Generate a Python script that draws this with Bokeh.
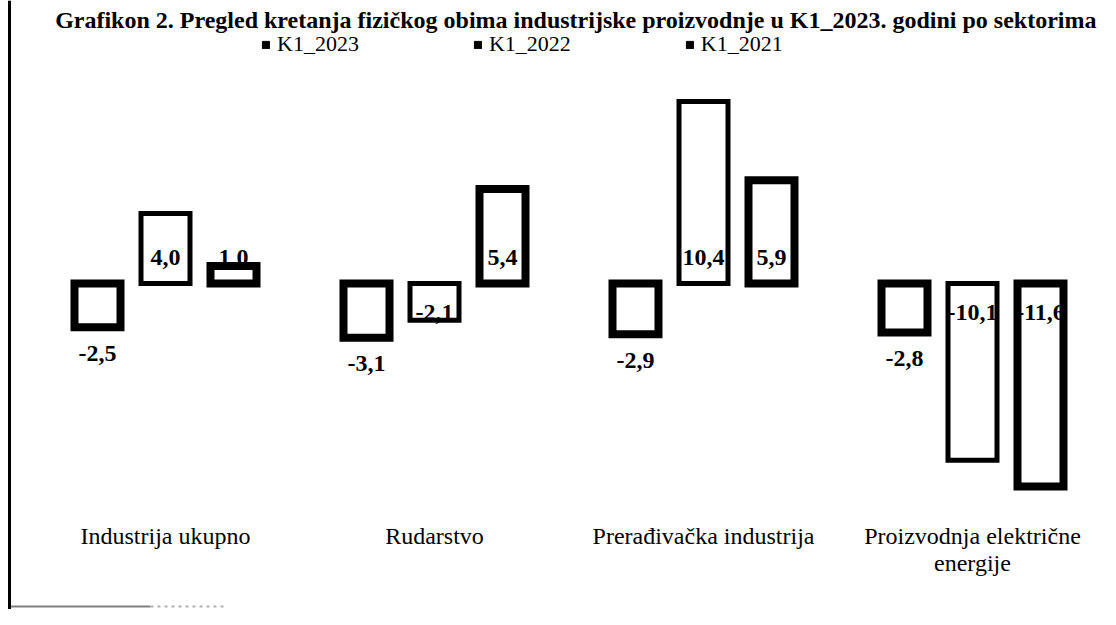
from bokeh.plotting import figure
from bokeh.models import ColumnDataSource, Range1d, Label, Legend, LegendItem, Span
from bokeh.transform import dodge
from bokeh.core.properties import value
from bokeh.embed import file_html
from bokeh.resources import INLINE

# ---------------- data ----------------
title_text = ("Grafikon 2. Pregled kretanja fizičkog obima industrijske proizvodnje "
              "u K1_2023. godini po sektorima")
categories = ["Industrija ukupno", "Rudarstvo", "Prerađivačka industrija",
              "Proizvodnja električne\nenergije"]
series = ["K1_2023", "K1_2022", "K1_2021"]
k1_2023 = [-2.5, -3.1, -2.9, -2.8]
k1_2022 = [4.0, -2.1, 10.4, -10.1]
k1_2021 = [1.0, 5.4, 5.9, -11.6]
values_by_series = [k1_2023, k1_2022, k1_2021]

# ---------------- layout ----------------
W, H = 1100, 609
PX_X = 269.0      # pixels per category group
PX_Y = 17.5       # pixels per percentage point
GROUP0_PX = 165   # canvas x of first group centre
ZERO_PX = 283     # canvas y of zero

x_start = -GROUP0_PX / PX_X
x_end = x_start + W / PX_X
y_end = ZERO_PX / PX_Y
y_start = y_end - H / PX_Y


def cx(px):
    return x_start + px / PX_X


def cy(py):
    return y_end - py / PX_Y


SERIF = value("Liberation Serif")

p = figure(width=W, height=H, x_range=Range1d(x_start, x_end),
           y_range=Range1d(y_start, y_end), output_backend="svg",
           toolbar_location=None, x_axis_location=None, y_axis_location=None,
           min_border=0)
p.grid.visible = False
p.outline_line_color = None
p.background_fill_color = "white"
p.border_fill_color = "white"

offsets = [-68 / PX_X, 0.0, 68 / PX_X]
line_widths = [8, 5, 8]
label_modes = ["below", "inside", "inside"]


def fmt(v):
    return f"{v:.1f}".replace(".", ",")


for name, vals, off, lw, mode in zip(series, values_by_series, offsets,
                                     line_widths, label_modes):
    width = (54 - lw) / PX_X
    if mode == "below":
        ly = vals
        loff = [26 if v < 0 else -26 for v in vals]
    else:
        ly = [0 for v in vals]
        loff = [-26 if v >= 0 else 29 for v in vals]
    src = ColumnDataSource(dict(g=list(range(len(categories))), v=vals,
                                lab=[fmt(v) for v in vals], ly=ly, loff=loff))
    p.vbar(x=dodge("g", off), top="v", bottom=0, width=width, source=src,
           fill_color="white", line_color="black", line_width=lw,
           line_join="miter")
    p.text(x=dodge("g", off), y="ly", text="lab", y_offset="loff", source=src,
           text_font=SERIF, text_font_style="bold", text_font_size="24px",
           text_align="center", text_baseline="middle", text_color="black")

# category labels
cat_src = ColumnDataSource(dict(g=list(range(len(categories))), cat=categories,
                                y=[cy(522)] * len(categories)))
p.text(x="g", y="y", text="cat", source=cat_src, text_font=SERIF,
       text_font_size="24px", text_align="center", text_baseline="top",
       text_line_height=1.05, text_color="black")

# legend (black squares, as in the original)
items = []
for name in series:
    r = p.vbar(x=[x_end + 5], top=[1], width=0.1, fill_color="black",
               line_color="black")
    items.append(LegendItem(label=name, renderers=[r]))
legend = Legend(items=items, orientation="horizontal", location=(261, H - 57),
                spacing=114, glyph_width=9, glyph_height=9, label_standoff=7,
                label_text_font="Liberation Serif", label_text_font_size="22px",
                label_text_color="black",
                padding=0, margin=0, border_line_color=None,
                background_fill_alpha=0)
p.add_layout(legend)

# title
p.add_layout(Label(x=W - 4, y=H - 19, x_units="screen", y_units="screen",
                   text=title_text, text_align="right", text_color="black",
                   text_baseline="alphabetic", text_font="Liberation Serif",
                   text_font_style="bold", text_font_size="24px"))

# frame remnants of the scanned chart box
p.add_layout(Span(location=cx(9), dimension="height", line_color="black",
                  line_width=3))
p.segment(x0=[cx(9)], y0=[cy(606)], x1=[cx(150)], y1=[cy(606)],
          line_color="#808080", line_width=2)
p.segment(x0=[cx(150)], y0=[cy(606)], x1=[cx(225)], y1=[cy(606)],
          line_color="#b0b0b0", line_width=2, line_dash="3 4")

open("out.html", "w").write(file_html(p, INLINE))
